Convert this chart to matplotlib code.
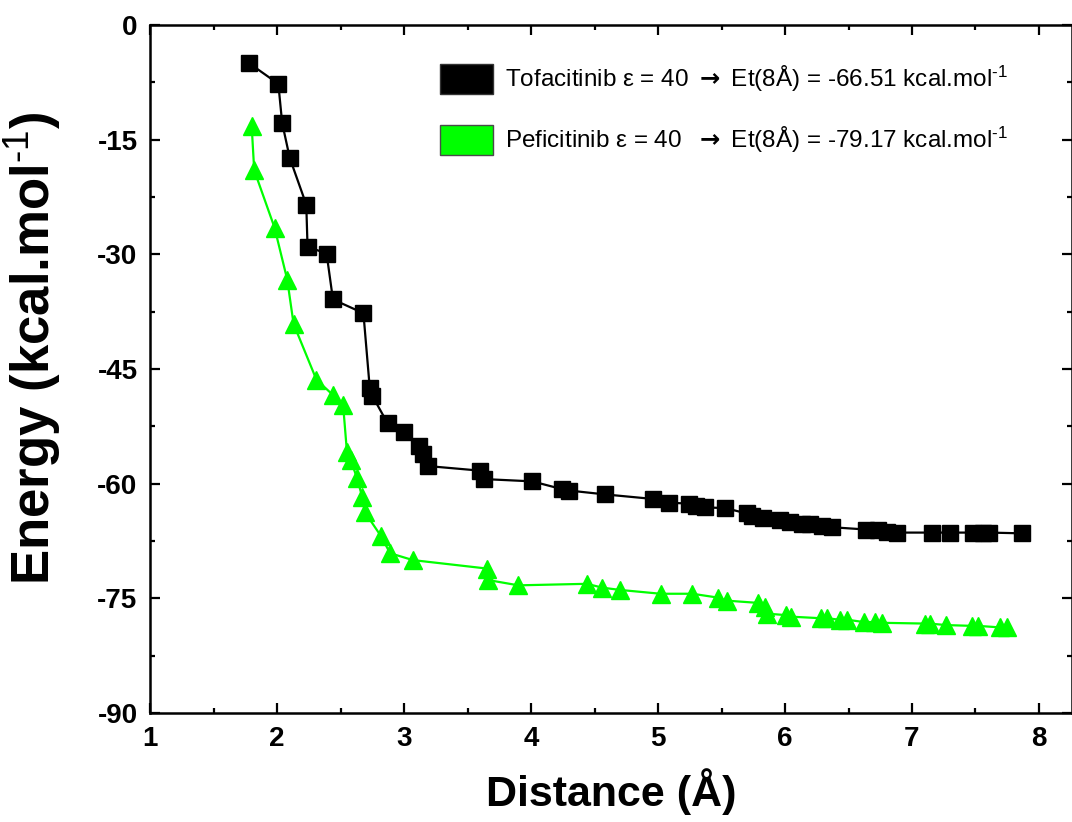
import matplotlib
matplotlib.use("Agg")
import matplotlib.pyplot as plt
from matplotlib.patches import Patch
from matplotlib.ticker import MultipleLocator

plt.rcParams['font.family'] = ['Liberation Sans', 'DejaVu Sans']
plt.rcParams['mathtext.fontset'] = 'custom'
plt.rcParams['mathtext.rm'] = 'Liberation Sans'
plt.rcParams['mathtext.bf'] = 'Liberation Sans:bold'
plt.rcParams['mathtext.sf'] = 'DejaVu Sans:bold'
plt.rcParams['mathtext.default'] = 'regular'
plt.rcParams['axes.unicode_minus'] = False

# Tofacitinib (black squares)
tofa_x = [1.78, 2.01, 2.04, 2.10, 2.23, 2.24, 2.39, 2.44, 2.68,
          2.73, 2.75, 2.87, 3.00, 3.12, 3.15, 3.19, 3.60, 3.63, 4.01,
          4.24, 4.30, 4.58, 4.96, 5.09, 5.24, 5.30, 5.37, 5.53,
          5.70, 5.74, 5.83, 5.96, 6.04, 6.13, 6.20, 6.29, 6.37, 6.64,
          6.73, 6.80, 6.88, 7.16, 7.30, 7.48, 7.56, 7.61, 7.87]
tofa_y = [-5.0, -7.7, -12.8, -17.4, -23.5, -29.0, -29.9, -35.9, -37.7,
          -47.5, -48.5, -52.1, -53.3, -55.1, -56.1, -57.7, -58.3, -59.4, -59.7,
          -60.7, -60.9, -61.4, -62.0, -62.5, -62.6, -62.9, -63.1, -63.2,
          -63.9, -64.2, -64.5, -64.7, -65.0, -65.3, -65.3, -65.5, -65.7, -66.0,
          -66.1, -66.3, -66.4, -66.4, -66.4, -66.4, -66.4, -66.4, -66.5]

# Peficitinib (green triangles)
pefi_x = [1.80, 1.82, 1.98, 2.08, 2.13, 2.31, 2.44, 2.52, 2.55, 2.58,
          2.63, 2.67, 2.69, 2.82, 2.89, 3.07, 3.65, 3.66, 3.90, 4.44,
          4.56, 4.70, 5.02, 5.27, 5.47, 5.54, 5.79, 5.84, 5.86, 6.01,
          6.05, 6.28, 6.33, 6.43, 6.49, 6.62, 6.71, 6.76, 7.10, 7.14,
          7.27, 7.47, 7.52, 7.69, 7.75]
pefi_y = [-13.2, -19.0, -26.5, -33.3, -39.1, -46.4, -48.4, -49.7, -55.8, -56.9,
          -59.3, -61.7, -63.7, -66.9, -69.1, -70.0, -71.1, -72.6, -73.3, -73.1,
          -73.6, -73.9, -74.4, -74.4, -74.9, -75.3, -75.6, -76.1, -77.0, -77.2,
          -77.4, -77.6, -77.6, -77.8, -77.8, -78.1, -78.1, -78.2, -78.3, -78.3,
          -78.5, -78.6, -78.6, -78.8, -78.8]

labels = [u"Tofacitinib \u03b5 = 40 $\\mathsf{\\rightarrow}$ Et(8\u00c5) = -66.51 kcal.mol$^{\\text{-1}}$",
          u"Peficitinib \u03b5 = 40  $\\mathsf{\\rightarrow}$ Et(8\u00c5) = -79.17 kcal.mol$^{\\text{-1}}$"]

fig = plt.figure(figsize=(10.72, 8.22), dpi=100)
ax = fig.add_axes([0.140, 0.1326, 0.860, 0.837])

ax.plot(tofa_x, tofa_y, '-s', color='black', lw=1.6, ms=11, mew=1)
ax.plot(pefi_x, pefi_y, '-^', color='#00ff00', lw=1.6, ms=13, mew=1)

ax.set_xlim(1, 8.26)
ax.set_ylim(-90, 0)
ax.xaxis.set_major_locator(MultipleLocator(1))
ax.xaxis.set_minor_locator(MultipleLocator(0.5))
ax.yaxis.set_major_locator(MultipleLocator(15))
ax.yaxis.set_minor_locator(MultipleLocator(7.5))
ax.tick_params(which='both', direction='in', top=True, right=True, width=1.6)
ax.tick_params(which='major', length=7, labelsize=20, pad=9)
ax.tick_params(which='minor', length=3.5)
for lab in ax.get_xticklabels() + ax.get_yticklabels():
    lab.set_fontweight('bold')
for sp in ax.spines.values():
    sp.set_linewidth(1.8)

ax.set_xlabel(u"Distance (\u00c5)", fontsize=31, fontweight='bold', labelpad=12)
ax.set_ylabel(r"Energy (kcal.mol$^{\text{-1}}$)", fontsize=38, fontweight='bold')
ax.yaxis.set_label_coords(-0.094, 0.53)

handles = [Patch(facecolor='black', edgecolor='#333333'),
           Patch(facecolor='#00ff00', edgecolor='#4a4a4a')]
ax.legend(handles, labels, loc='upper right', frameon=False, fontsize=17.5,
          handlelength=2.2, handleheight=1.5, labelspacing=1.25,
          handletextpad=0.5, bbox_to_anchor=(0.955, 0.975))

fig.savefig("out.png", dpi=100)
